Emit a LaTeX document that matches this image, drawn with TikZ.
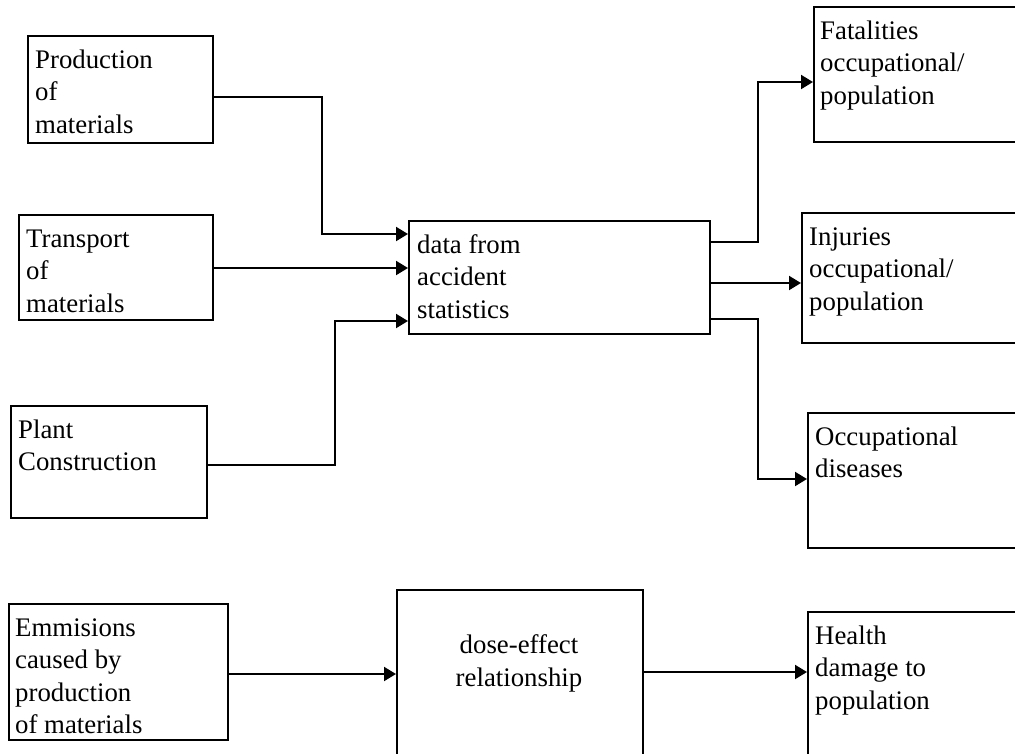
\documentclass[tikz,border=0pt]{standalone}
\usepackage{fontspec}
\setmainfont{Liberation Serif}
\usetikzlibrary{arrows.meta}
\begin{document}
\begin{tikzpicture}[x=1pt,y=-1pt,
  box/.style={draw=black, line width=2pt, anchor=north west, inner sep=0pt, rectangle},
  txt/.style={anchor=north west, inner sep=0pt, align=left, font=\fontsize{26.8}{32.5}\selectfont},
  ctxt/.style={anchor=north, inner sep=0pt, align=center, font=\fontsize{26.8}{32.5}\selectfont},
  conn/.style={line width=2pt},
  arr/.style={line width=2pt, -{Triangle[length=12pt,width=14pt]}}]
\useasboundingbox (0,0) rectangle (1015,753);
\clip (0,0) rectangle (1015,753);
\fill[white] (0,0) rectangle (1015,753);
% boxes
\node[box, minimum width=185pt, minimum height=107pt] (prod) at (27,35) {};
\node[box, minimum width=194pt, minimum height=105pt] (trans) at (18,214) {};
\node[box, minimum width=196pt, minimum height=112pt] (plant) at (10,405) {};
\node[box, minimum width=301pt, minimum height=113pt] (data) at (408,220) {};
\node[box, minimum width=230pt, minimum height=135pt] (fat) at (813,6) {};
\node[box, minimum width=240pt, minimum height=130pt] (inj) at (801,212) {};
\node[box, minimum width=240pt, minimum height=135pt] (occ) at (807,412) {};
\node[box, minimum width=219pt, minimum height=136pt] (emm) at (8,603) {};
\node[box, minimum width=246pt, minimum height=220pt] (dose) at (396,589) {};
\node[box, minimum width=240pt, minimum height=200pt] (health) at (807,611) {};
% texts
\node[txt] (prodt) at ([xshift=8pt,yshift=-10.25pt]prod.north west) {\strut Production\\of\\materials};
\node[txt] (transt) at ([xshift=8pt,yshift=-10.25pt]trans.north west) {\strut Transport\\of\\materials};
\node[txt] (plantt) at ([xshift=8pt,yshift=-10.25pt]plant.north west) {\strut Plant\\Construction};
\node[txt] (datat) at ([xshift=9pt,yshift=-10.25pt]data.north west) {\strut data from\\accident\\statistics};
\node[txt] (fatt) at ([xshift=7pt,yshift=-10.25pt]fat.north west) {\strut Fatalities\\occupational/\\population};
\node[txt] (injt) at ([xshift=8pt,yshift=-10.25pt]inj.north west) {\strut Injuries\\occupational/\\population};
\node[txt] (occt) at ([xshift=8pt,yshift=-10.25pt]occ.north west) {\strut Occupational\\diseases};
\node[txt] (emmt) at ([xshift=7pt,yshift=-10.25pt]emm.north west) {\strut Emmisions\\caused by\\production\\of materials};
\node[ctxt] (doset) at (519,631) {\strut dose-effect\\relationship};
\node[txt] (healtht) at ([xshift=8pt,yshift=-10.25pt]health.north west) {\strut Health\\damage to\\population};
% junction coordinates
\coordinate (jp) at (322,97);
\coordinate (yt) at (0,268);
\coordinate (jc) at (335,465);
\coordinate (jr1) at (758,242);
\coordinate (yf) at (0,82);
\coordinate (ym) at (0,283);
\coordinate (jr3) at (758,319);
\coordinate (yo) at (0,479);
\coordinate (ye) at (0,674);
\coordinate (yh) at (0,672);
% connectors
\draw[arr] (prod.east |- jp) -- (jp) |- ([yshift=-14pt]data.north west);
\draw[arr] (trans.east |- yt) -- (data.west |- yt);
\draw[arr] (plant.east |- jc) -- (jc) |- ([yshift=14pt]data.south west);
\draw[arr] (data.east |- jr1) -- (jr1) |- (fat.west |- yf);
\draw[arr] (data.east |- ym) -- (inj.west |- ym);
\draw[arr] (data.east |- jr3) -- (jr3) |- (occ.west |- yo);
\draw[arr] (emm.east |- ye) -- (dose.west |- ye);
\draw[arr] (dose.east |- yh) -- (health.west |- yh);
\end{tikzpicture}
\end{document}
